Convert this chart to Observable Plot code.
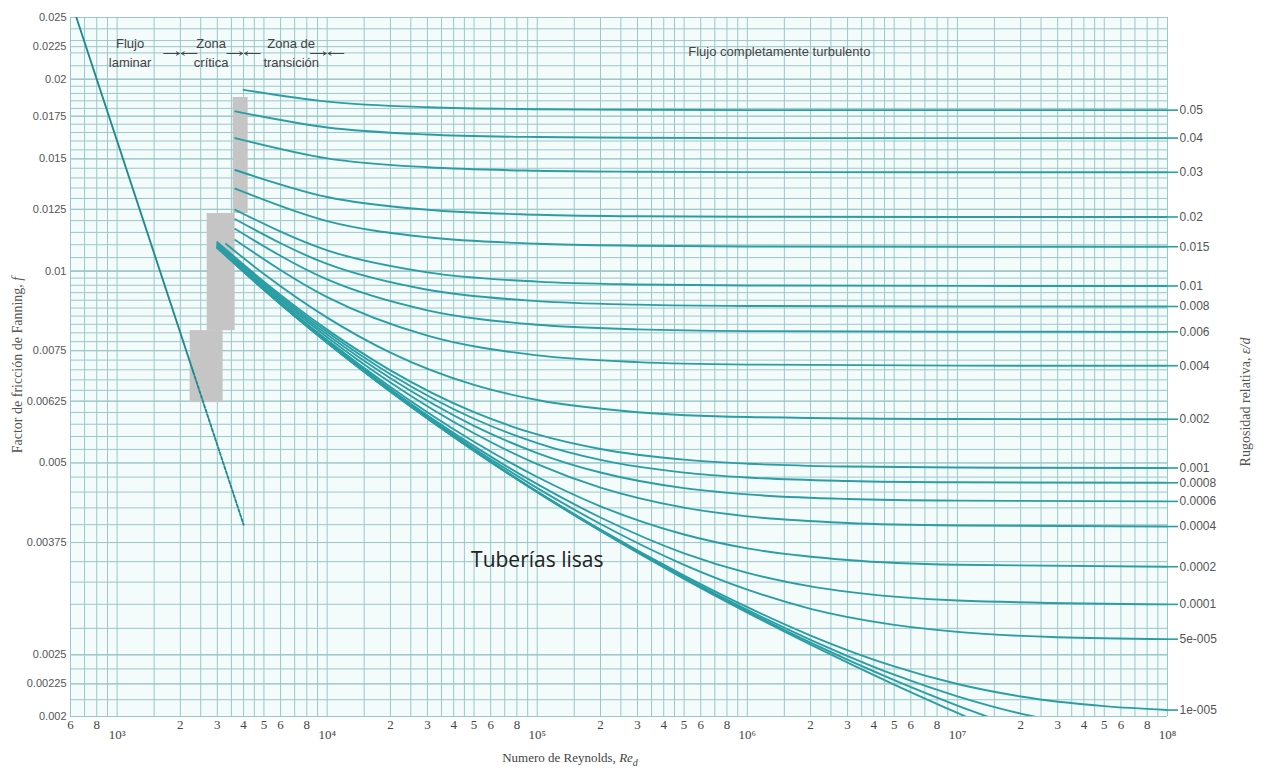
<!DOCTYPE html>
<html><head><meta charset="utf-8">
<script src="https://cdn.jsdelivr.net/npm/d3@7"></script>
<script src="https://cdn.jsdelivr.net/npm/@observablehq/plot@0.6"></script>
<style>
body{margin:0;background:#fff;}
#chart{position:absolute;left:0;top:0;}
</style></head><body><div id="chart"></div>
<script>
// ---------- Data ----------
// Fanning friction factor curves, one per relative roughness
const reRough = [3650, 1e4, 3e4, 1e5, 3e5, 1e6, 1e7, 1e8];
const re005 = [4000, 1e4, 3e4, 1e5, 3e5, 1e6, 1e7, 1e8];
const f005  = [0.01925, 0.01845, 0.01808, 0.01795, 0.01791, 0.01789, 0.01789, 0.01789];
const f004  = [0.01781, 0.01680, 0.01638, 0.01623, 0.01619, 0.01617, 0.01617, 0.01617];
const f003  = [0.01617, 0.01503, 0.01455, 0.01437, 0.01432, 0.01430, 0.01429, 0.01429];
const f002  = [0.01441, 0.01307, 0.01248, 0.01226, 0.01219, 0.01217, 0.01216, 0.01216];
const f0015 = [0.01347, 0.01198, 0.01130, 0.01104, 0.01096, 0.01093, 0.01092, 0.01092];
const f001  = [0.01248, 0.01078, 0.009955, 0.009626, 0.009526, 0.009491, 0.009478, 0.009476];
const f0008 = [0.01206, 0.01026, 0.009347, 0.008972, 0.008858, 0.008817, 0.008801, 0.008799];
const f0006 = [0.01164, 0.009701, 0.008677, 0.008237, 0.008100, 0.008051, 0.008032, 0.008029];
const f0004 = [0.01119, 0.009102, 0.007919, 0.007374, 0.007198, 0.007133, 0.007105, 0.007104];

const re0002 = [3300, 5e3, 1e4, 2e4, 5e4, 1e5, 3e5, 1e6, 1e7, 1e8];
const f0002  = [0.01103, 0.009894, 0.008452, 0.007448, 0.006627, 0.006276, 0.006006, 0.005902, 0.005859, 0.005855];

const reFine = [3000, 5e3, 1e4, 2e4, 5e4, 1e5, 2e5, 5e5, 1e6, 3e6, 1e7, 1e8];
const f0001  = [0.011106, 0.009626, 0.008093, 0.006986, 0.006005, 0.005542, 0.005258, 0.005059, 0.004986, 0.004935, 0.004917, 0.004909];
const f00008 = [0.011063, 0.009574, 0.008022, 0.006888, 0.005865, 0.005372, 0.005055, 0.004828, 0.004743, 0.004684, 0.004662, 0.004653];
const f00006 = [0.011019, 0.009517, 0.007949, 0.006788, 0.005718, 0.005182, 0.004829, 0.004564, 0.004462, 0.004389, 0.004363, 0.004351];
const f00004 = [0.010974, 0.009459, 0.007875, 0.006686, 0.005565, 0.004978, 0.004573, 0.004254, 0.004122, 0.004025, 0.003989, 0.003973];
const f00002 = [0.010930, 0.009403, 0.007797, 0.006578, 0.005397, 0.004752, 0.004275, 0.003860, 0.003671, 0.003520, 0.003460, 0.003436];

const re00001 = [3000, 5e3, 1e4, 2e4, 5e4, 1e5, 2e5, 5e5, 1e6, 2e6, 5e6, 1e7, 1e8];
const f00001  = [0.010908, 0.009377, 0.007759, 0.006525, 0.005312, 0.004630, 0.004105, 0.003607, 0.003361, 0.003201, 0.003084, 0.003041, 0.002999];
const re5em5 = [3000, 5e3, 1e4, 2e4, 5e4, 1e5, 2e5, 5e5, 1e6, 2e6, 5e6, 1e7, 3e7, 1e8];
const f5em5  = [0.010890, 0.009364, 0.007741, 0.006497, 0.005268, 0.004565, 0.004010, 0.003460, 0.003163, 0.002951, 0.002785, 0.002715, 0.002663, 0.002645];
const re1em5 = [3000, 5e3, 1e4, 2e4, 5e4, 1e5, 2e5, 5e5, 1e6, 2e6, 5e6, 1e7, 2e7, 5e7, 1e8];
const f1em5  = [0.010880, 0.009351, 0.007725, 0.006475, 0.005232, 0.004510, 0.003929, 0.003328, 0.002969, 0.002680, 0.002397, 0.002249, 0.002150, 0.002076, 0.002047];
const re5em6 = [3000, 5e3, 1e4, 2e4, 5e4, 1e5, 2e5, 5e5, 1e6, 2e6, 5e6, 1e7, 2e7, 3e7];
const f5em6  = [0.010879, 0.009348, 0.007722, 0.006473, 0.005226, 0.004505, 0.003921, 0.003308, 0.002940, 0.002639, 0.002326, 0.002151, 0.002021, 0.001966];
const re2em6 = [3000, 5e3, 1e4, 2e4, 5e4, 1e5, 2e5, 5e5, 1e6, 2e6, 5e6, 1e7, 1.5e7];
const f2em6  = [0.010879, 0.009348, 0.007721, 0.006472, 0.005224, 0.004500, 0.003914, 0.003297, 0.002923, 0.002611, 0.002280, 0.002080, 0.001981];
const reSmooth = [3000, 5e3, 1e4, 2e4, 5e4, 1e5, 2e5, 5e5, 1e6, 2e6, 5e6, 1e7, 1.2e7];
const fSmooth  = [0.010879, 0.009348, 0.007721, 0.006472, 0.005223, 0.004497, 0.003909, 0.003289, 0.002911, 0.002593, 0.002245, 0.002026, 0.001973];

// Laminar flow line
const laminarRe = [640, 2300];
const laminarF  = [0.025, 0.006957];
const laminarDashRe = [2300, 4000];
const laminarDashF  = [0.006957, 0.004];

// Critical zone shading (Re range, f range)
const zoneRe1 = [3568, 2683, 2227];
const zoneRe2 = [4205, 3647, 3197];
const zoneF1  = [0.012312, 0.008065, 0.006218];
const zoneF2  = [0.018725, 0.012312, 0.008065];

// Tick labels
const yTicks = [0.002, 0.00225, 0.0025, 0.00375, 0.005, 0.00625, 0.0075, 0.01, 0.0125, 0.015, 0.0175, 0.02, 0.0225, 0.025];
const yTickLabels = ["0.002", "0.00225", "0.0025", "0.00375", "0.005", "0.00625", "0.0075", "0.01", "0.0125", "0.015", "0.0175", "0.02", "0.0225", "0.025"];
const xDigitTicks = [600, 800, 2e3, 3e3, 4e3, 5e3, 6e3, 8e3, 2e4, 3e4, 4e4, 5e4, 6e4, 8e4, 2e5, 3e5, 4e5, 5e5, 6e5, 8e5, 2e6, 3e6, 4e6, 5e6, 6e6, 8e6, 2e7, 3e7, 4e7, 5e7, 6e7, 8e7];
const xDigitLabels = ["6", "8", "2", "3", "4", "5", "6", "8", "2", "3", "4", "5", "6", "8", "2", "3", "4", "5", "6", "8", "2", "3", "4", "5", "6", "8", "2", "3", "4", "5", "6", "8"];
const xPowerTicks = [1e3, 1e4, 1e5, 1e6, 1e7, 1e8];
const xPowerLabels = ["10³", "10⁴", "10⁵", "10⁶", "10⁷", "10⁸"];

// Annotations
const noteRe = [1153, 2803, 6740];
const noteText = ["Flujo\nlaminar", "Zona\ncrítica", "Zona de\ntransición"];
const noteF = 0.0221;
const boundaryRe = [2000, 4000, 10000];
const arrowF = 0.02195;

// ---------- Build tables ----------
const curveList = [
  {re: re005, f: f005, label: "0.05"},
  {re: reRough, f: f004, label: "0.04"},
  {re: reRough, f: f003, label: "0.03"},
  {re: reRough, f: f002, label: "0.02"},
  {re: reRough, f: f0015, label: "0.015"},
  {re: reRough, f: f001, label: "0.01"},
  {re: reRough, f: f0008, label: "0.008"},
  {re: reRough, f: f0006, label: "0.006"},
  {re: reRough, f: f0004, label: "0.004"},
  {re: re0002, f: f0002, label: "0.002"},
  {re: reFine, f: f0001, label: "0.001"},
  {re: reFine, f: f00008, label: "0.0008"},
  {re: reFine, f: f00006, label: "0.0006"},
  {re: reFine, f: f00004, label: "0.0004"},
  {re: reFine, f: f00002, label: "0.0002"},
  {re: re00001, f: f00001, label: "0.0001"},
  {re: re5em5, f: f5em5, label: "5e-005"},
  {re: re1em5, f: f1em5, label: "1e-005"},
  {re: re5em6, f: f5em6, label: null},
  {re: re2em6, f: f2em6, label: null},
  {re: reSmooth, f: fSmooth, label: null}
];
const rows = [];
const endRows = [];
curveList.forEach((c, i) => {
  c.re.forEach((r, j) => rows.push({curve: i, Re: r, f: c.f[j]}));
  if (c.label) endRows.push({Re: c.re[c.re.length - 1], f: c.f[c.f.length - 1], label: c.label});
});
const laminar = laminarRe.map((r, i) => ({Re: r, f: laminarF[i]}));
const laminarDash = laminarDashRe.map((r, i) => ({Re: r, f: laminarDashF[i]}));
const zone = zoneRe1.map((r, i) => ({re1: r, re2: zoneRe2[i], f1: zoneF1[i], f2: zoneF2[i]}));
const notes = noteRe.map((r, i) => ({Re: r, f: noteF, text: noteText[i]}));
const xDigits = xDigitTicks.map((t, i) => ({Re: t, label: xDigitLabels[i]}));
const xPowers = xPowerTicks.map((t, i) => ({Re: t, label: xPowerLabels[i]}));

// grid lines
const gridRe = [];
[1e2, 1e3, 1e4, 1e5, 1e6, 1e7, 1e8].forEach(d => [1, 1.5, 2, 2.5, 3, 3.5, 4, 4.5, 5, 6, 7, 8, 9].forEach(m => {
  const v = d * m; if (v >= 600 && v <= 1e8) gridRe.push(v);
}));
const gridF = [];
[[0.002, 0.0025, 0.000125], [0.0025, 0.01, 0.00025], [0.01, 0.02, 0.0005], [0.02, 0.025, 0.001]].forEach(([a, b, s]) => {
  for (let k = 0; a + k * s <= b + 1e-9; k++) gridF.push(+(a + k * s).toFixed(7));
});
yTicks.forEach(t => gridF.push(t));

const teal = "#2a9ea4";
const plot = Plot.plot({
  width: 1267, height: 774,
  marginLeft: 70, marginRight: 100, marginTop: 17, marginBottom: 58,
  x: {type: "log", domain: [600, 1e8], axis: null},
  y: {type: "log", domain: [0.002, 0.025]},
  style: {fontFamily: "Liberation Sans", background: "#fff", overflow: "visible"},
  marks: [
    Plot.frame({fill: "#f3fbfb", stroke: null}),
    Plot.ruleX(gridRe, {stroke: "#9cc7c8", strokeWidth: 1}),
    Plot.ruleY(gridF, {stroke: "#9cc7c8", strokeWidth: 1}),
    Plot.rect(zone, {x1: "re1", x2: "re2", y1: "f1", y2: "f2", fill: "#c5c5c5"}),
    Plot.line(laminar, {x: "Re", y: "f", stroke: "#1f8b8e", strokeWidth: 1.9, clip: true}),
    Plot.line(laminarDash, {x: "Re", y: "f", stroke: "#1f8b8e", strokeWidth: 1.9, strokeDasharray: "3,2"}),
    Plot.line(rows, {x: "Re", y: "f", z: "curve", stroke: teal, strokeWidth: 1.9, curve: "monotone-x", clip: true}),
    Plot.ruleY(endRows, {y: "f", x1: "Re", x2: "Re", insetRight: -11, stroke: teal, strokeWidth: 1.6}),
    Plot.text(endRows, {x: "Re", y: "f", text: "label", dx: 12, textAnchor: "start", fontSize: 12, fill: "#555"}),
    Plot.axisY(yTicks, {tickFormat: d => yTickLabels[yTicks.indexOf(d)], tickSize: 0, tickPadding: 4, fontSize: 11, fill: "#555", label: null}),
    Plot.text(xDigits, {x: "Re", frameAnchor: "bottom", dy: 12, text: "label", fontSize: 13, fontFamily: "Liberation Serif", fill: "#444"}),
    Plot.text(xPowers, {x: "Re", frameAnchor: "bottom", dy: 22, text: "label", fontSize: 13, fontFamily: "Liberation Serif", fill: "#444"}),
    Plot.text(notes, {x: "Re", y: "f", text: "text", fontSize: 13, lineHeight: 1.45, fill: "#444"}),
    Plot.arrow(boundaryRe, {x1: d => d / 1.2, x2: d => d, y1: () => arrowF, y2: () => arrowF, stroke: "#444", strokeWidth: 1, headLength: 5, insetEnd: 1}),
    Plot.arrow(boundaryRe, {x1: d => d * 1.2, x2: d => d, y1: () => arrowF, y2: () => arrowF, stroke: "#444", strokeWidth: 1, headLength: 5, insetEnd: 1}),
    Plot.text(["Flujo completamente turbulento"], {x: () => 1.42e6, y: () => 0.02211, text: d => d, fontSize: 13, fill: "#444"}),
    Plot.text(["Tuberías lisas"], {x: () => 1e5, y: () => 0.003513, text: d => d, fontSize: 21, fontFamily: "Open Sans", fill: "#222"})
  ]
});

const svg = d3.select(plot);
// x title
const xt = svg.append("text").attr("x", 570).attr("y", 762).attr("text-anchor", "middle")
  .attr("font-family", "Liberation Serif").attr("font-size", 13).attr("fill", "#444");
xt.append("tspan").text("Numero de Reynolds, ");
xt.append("tspan").attr("font-style", "italic").text("Re");
xt.append("tspan").attr("font-style", "italic").attr("font-size", 10).attr("dy", 4).text("d");
// y title
const yt = svg.append("text").attr("transform", "translate(22,365) rotate(-90)").attr("text-anchor", "middle")
  .attr("font-family", "Liberation Serif").attr("font-size", 14).attr("fill", "#555");
yt.append("tspan").text("Factor de fricción de Fanning, ");
yt.append("tspan").attr("font-style", "italic").text("f");
// right title
const rt = svg.append("text").attr("transform", "translate(1250,402) rotate(-90)").attr("text-anchor", "middle")
  .attr("font-family", "Liberation Serif").attr("font-size", 14).attr("fill", "#555");
rt.append("tspan").text("Rugosidad relativa, ");
rt.append("tspan").attr("font-style", "italic").text("ε/d");

document.getElementById("chart").appendChild(plot);
</script></body></html>
